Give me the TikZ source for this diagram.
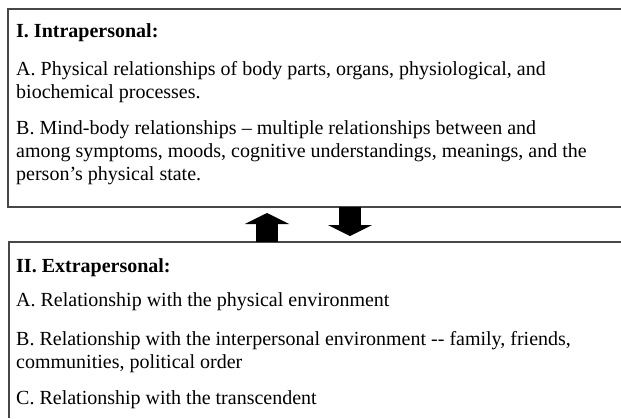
\documentclass[tikz,border=0pt]{standalone}
\usepackage{fontspec}
\setmainfont{Liberation Serif}
\usetikzlibrary{arrows.meta}
\begin{document}
\begin{tikzpicture}[x=1pt,y=-1pt,
  txt/.style={anchor=base west,inner sep=0pt,font=\fontsize{20}{23}\selectfont},
  hdr/.style={txt,font=\fontsize{20}{23}\selectfont\bfseries},
  boxline/.style={draw=black!72,line width=1.3pt},
  blockarrow/.style={line width=22pt,-{Triangle[width=44pt,length=11pt]}}]
\useasboundingbox (0,0) rectangle (621,418);
% box corners
\coordinate (t1) at (621,9);
\coordinate (t2) at (8,9);
\coordinate (t3) at (8,207);
\coordinate (t4) at (621,207);
\coordinate (b1) at (621,242);
\coordinate (b2) at (9,242);
\coordinate (b3) at (9,418);
\draw[boxline] (t1) -- (t2) -- (t3) -- (t4);
\draw[boxline] (b1) -- (b2) -- (b3);
% text
\node[hdr] (h1) at (16,37) {I. Intrapersonal:};
\node[txt] (a1) at (16,75) {A. Physical relationships of body parts, organs, physiological, and};
\node[txt] (a2) at (16,98) {biochemical processes.};
\node[txt] (m1) at (16,134) {B. Mind-body relationships -- multiple relationships between and};
\node[txt] (m2) at (16,157) {among symptoms, moods, cognitive understandings, meanings, and the};
\node[txt] (m3) at (16,180) {person’s physical state.};
\node[hdr] (h2) at (16,272) {II. Extrapersonal:};
\node[txt] (e1) at (16,306) {A. Relationship with the physical environment};
\node[txt] (e2) at (16,345) {B. Relationship with the interpersonal environment -\/- family, friends,};
\node[txt] (e3) at (16,368) {communities, political order};
\node[txt] (e4) at (16,404) {C. Relationship with the transcendent};
% arrows
\coordinate (upS) at (267,242);
\coordinate (upE) at (267,213);
\coordinate (dnS) at (350,207);
\coordinate (dnE) at (350,236);
\draw[blockarrow] (upS) -- (upE);
\draw[blockarrow] (dnS) -- (dnE);
\end{tikzpicture}
\end{document}
